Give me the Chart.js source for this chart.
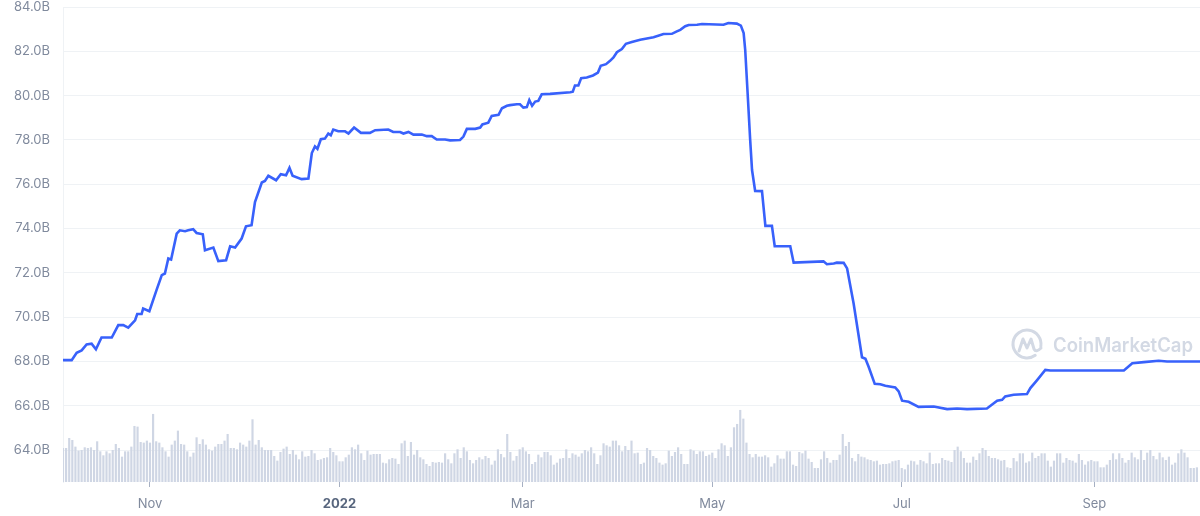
<!DOCTYPE html>
<html>
<head>
<meta charset="utf-8">
<script src="https://cdn.jsdelivr.net/npm/chart.js@4.4.0/dist/chart.umd.min.js"></script>
<style>
  body { margin: 0; background: #fff; }
  #wrap { width: 1200px; height: 516px; }
</style>
</head>
<body>
<div id="wrap"><canvas id="chart"></canvas></div>
<script>
// day index counted from 4 Oct 2021
const days = [
  0,2.8,4.4,6.0,7.6,9.2,10.6,12.4,15.7,17.8,19.4,21.0,23.2,23.9,25.3,25.8,27.8,30.1,31.8,32.8,
  33.9,34.8,36.6,37.6,39.3,40.3,41.9,43.0,45.0,45.7,48.4,50.0,52.5,53.8,55.4,57.5,58.9,60.7,61.8,64.0,
  65.0,66.1,68.6,70.1,71.8,72.9,73.9,76.8,79.0,80.1,81.1,81.9,83.0,84.3,85.4,86.2,87.0,88.6,90.8,91.9,
  93.7,95.9,98.8,100.5,104.7,106.3,108.5,109.6,111.2,112.8,115.5,117.1,118.7,120.3,123.0,124.6,127.8,
  128.9,130.0,132.7,134.3,135.0,136.9,138.0,140.2,141.3,142.9,143.9,146.1,147.1,148.2,149.3,150.1,151.0,152.0,153.0,154.1,
  156.8,163.3,164.1,164.8,165.9,166.8,168.6,170.6,172.2,173.1,174.8,176.1,177.2,178.3,179.9,181.2,183.1,185.8,190.1,193.3,
  196.0,197.6,198.7,200.3,201.4,204.1,205.7,212.6,214.2,216.9,218.2,219.1,219.6,220.5,221.2,221.8,222.8,225.0,226.1,228.2,
  229.1,234.1,
  235.2,244.8,245.9,248.1,249.1,251.3,252.4,254.5,257.2,258.3,259.3,261.3,263.1,264.7,267.9,269.0,270.1,272.2,275.4,280.3,
  284.6,287.8,291.0,297.4,300.7,302.3,303.3,306.0,310.3,311.4,313.5,316.2,317.8,341.5,344.2,347.9,352.7,355.4,366
];

// supply, billions
const supply = [
  68.06,68.06,68.39,68.5,68.77,68.8,68.55,69.08,69.08,69.64,69.64,69.53,69.86,70.14,70.14,70.39,70.27,71.22,71.9,71.97,
  72.65,72.6,73.77,73.92,73.88,73.92,73.97,73.8,73.74,73.02,73.14,72.53,72.57,73.2,73.14,73.55,74.1,74.15,75.2,76.08,
  76.15,76.38,76.18,76.45,76.4,76.74,76.38,76.23,76.26,77.41,77.71,77.6,78.03,78.06,78.29,78.21,78.47,78.39,78.39,78.29,
  78.56,78.32,78.32,78.44,78.47,78.36,78.36,78.29,78.36,78.24,78.24,78.17,78.17,78.02,78.02,77.98,78.0,
  78.15,78.5,78.5,78.56,78.7,78.78,79.08,79.13,79.43,79.54,79.57,79.61,79.61,79.46,79.48,79.8,79.54,79.73,79.76,80.06,
  80.08,80.15,80.18,80.46,80.46,80.79,80.82,80.91,81.04,81.35,81.42,81.57,81.72,81.96,82.1,82.34,82.42,82.52,82.63,82.78,
  82.79,82.9,82.97,83.13,83.19,83.2,83.23,83.2,83.28,83.25,83.16,82.82,82.07,79.8,78.0,76.64,75.7,75.69,74.12,74.12,
  73.2,73.2,
  72.46,72.52,72.39,72.42,72.46,72.45,72.2,70.62,68.19,68.12,67.77,66.99,66.97,66.9,66.83,66.65,66.23,66.18,65.95,65.97,
  65.85,65.88,65.85,65.88,66.23,66.27,66.42,66.5,66.53,66.8,67.15,67.62,67.59,67.59,67.92,67.97,68.03,68.0,68.0
];

// daily volume (relative), one per day from day 0
const volume = [
  51,51,66,63,53,47,48,52,51,52,48,61,46,40,46,43,48,57,51,38,46,46,53,84,83,60,59,62,59,102,
  61,59,52,46,38,56,62,77,57,56,46,38,44,67,57,64,56,49,47,53,57,57,62,72,51,51,49,59,56,53,
  62,94,56,63,52,48,48,48,39,32,45,50,53,42,48,41,34,46,38,39,48,43,33,34,36,37,51,45,40,31,
  31,37,41,
  52,49,56,43,33,47,41,42,42,42,29,28,34,36,35,27,58,62,39,60,41,48,37,34,27,24,30,29,30,29,
  43,34,28,43,49,36,52,46,33,28,33,37,34,39,36,26,32,49,42,37,72,45,32,39,49,52,46,42,27,30,
  41,37,45,45,40,26,29,35,36,49,36,43,41,38,43,48,46,52,43,27,40,58,55,53,62,62,55,46,54,48,62,
  43,44,27,29,51,48,39,36,29,26,28,47,39,45,52,42,27,27,49,47,42,46,46,39,41,44,36,49,58,55,
  39,52,82,87,108,95,59,42,37,42,38,38,40,37,23,28,40,35,35,46,46,26,24,45,43,47,35,30,21,21,
  34,46,36,29,33,33,41,72,54,60,36,31,42,38,37,34,33,31,32,26,27,27,28,31,32,33,21,19,26,32,31,
  26,33,31,28,44,27,28,28,36,33,32,30,48,53,46,36,29,29,38,33,43,51,48,39,36,36,34,32,33,22,
  21,36,31,43,43,29,31,44,36,39,43,43,32,23,32,43,43,29,36,33,32,29,42,33,26,31,33,31,31,22,
  22,26,33,43,34,43,36,29,33,44,37,34,48,33,44,48,39,34,44,37,33,38,26,29,43,49,44,37,21,21,22
];

const tickDays = [28, 89, 148, 209, 270, 332];
const tickLabels = ['Nov', '2022', 'Mar', 'May', 'Jul', 'Sep'];
const yTicks = [64, 66, 68, 70, 72, 74, 76, 78, 80, 82, 84];

const watermark = {
  id: 'watermark',
  beforeDatasetsDraw(chart) {
    const ctx = chart.ctx;
    const a = chart.chartArea;
    const cx = a.right - 173, cy = a.top + 337;
    ctx.save();
    ctx.strokeStyle = '#d3d9e4';
    ctx.fillStyle = '#d3d9e4';
    ctx.lineWidth = 3;
    ctx.lineCap = 'round';
    ctx.lineJoin = 'round';
    ctx.beginPath();
    ctx.arc(cx, cy, 14, 0.3 * Math.PI, 0.05 * Math.PI);
    ctx.stroke();
    ctx.beginPath();
    ctx.moveTo(cx - 8, cy + 7);
    ctx.lineTo(cx - 4, cy - 5);
    ctx.lineTo(cx, cy + 4);
    ctx.lineTo(cx + 4, cy - 5);
    ctx.lineTo(cx + 7, cy + 5);
    ctx.quadraticCurveTo(cx + 9, cy + 9, cx + 14, cy + 4);
    ctx.stroke();
    ctx.font = '600 20px Inter';
    ctx.textBaseline = 'middle';
    ctx.fillText('CoinMarketCap', cx + 26, cy + 2, 140);
    ctx.restore();
  }
};

new Chart(document.getElementById('chart'), {
  type: 'bar',
  data: {
    datasets: [
      {
        type: 'line',
        data: days.map((d, i) => ({x: d, y: supply[i]})),
        borderColor: '#3861fb',
        borderWidth: 2.6,
        pointRadius: 0,
        tension: 0,
        yAxisID: 'y',
        order: 0
      },
      {
        type: 'bar',
        data: volume.map((v, i) => ({x: i, y: v})),
        backgroundColor: '#cfd6e4',
        barPercentage: 0.7,
        categoryPercentage: 1,
        yAxisID: 'vol',
        order: 1
      }
    ]
  },
  options: {
    responsive: true,
    maintainAspectRatio: false,
    animation: false,
    layout: {autoPadding: false, padding: {top: 7, right: 0, left: 0, bottom: 0}},
    plugins: {legend: {display: false}, tooltip: {enabled: false}},
    scales: {
      x: {
        type: 'linear',
        min: 0,
        max: 366,
        offset: false,
        afterBuildTicks: axis => { axis.ticks = tickDays.map(v => ({value: v})); },
        afterFit: axis => { axis.height = 34; axis.paddingLeft = 0; axis.paddingRight = 0; },
        grid: {
          offset: false,
          drawOnChartArea: false,
          tickLength: 5,
          tickColor: '#a6b0c3'
        },
        border: {display: false},
        ticks: {
          autoSkip: false,
          maxRotation: 0,
          padding: 9,
          callback: v => tickLabels[tickDays.indexOf(v)],
          color: ctx => ctx.tick && ctx.tick.value === 89 ? '#58667e' : '#808a9d',
          font: ctx => ({family: 'Inter', size: 13, weight: ctx.tick && ctx.tick.value === 89 ? '700' : '400'})
        }
      },
      y: {
        position: 'left',
        min: 62.56,
        max: 84,
        afterBuildTicks: axis => { axis.ticks = yTicks.map(v => ({value: v})); },
        afterFit: axis => { axis.width = 63; axis.paddingTop = 0; axis.paddingBottom = 0; },
        grid: {color: '#eff2f5', drawTicks: false},
        border: {display: true, color: '#eff2f5'},
        ticks: {
          padding: 13,
          color: '#808a9d',
          font: {family: 'Inter', size: 13},
          callback: v => v.toFixed(1) + 'B'
        }
      },
      vol: {
        display: false,
        min: 0,
        max: 712
      }
    }
  },
  plugins: [watermark]
});
</script>
</body>
</html>
